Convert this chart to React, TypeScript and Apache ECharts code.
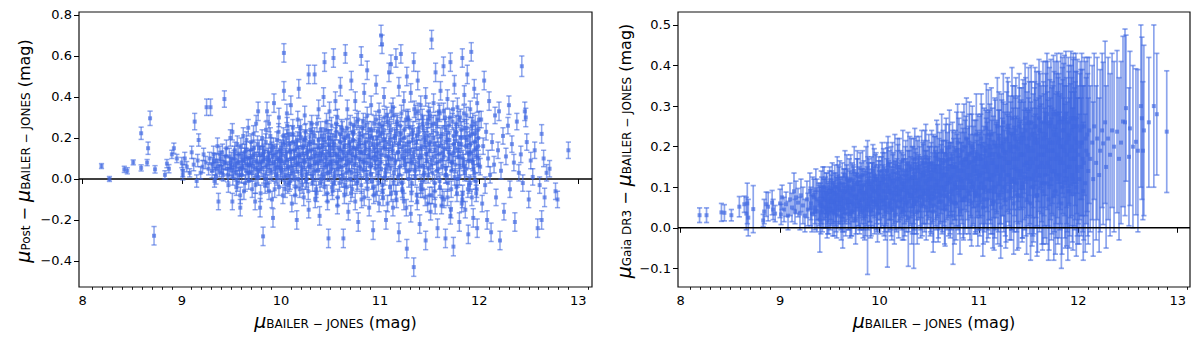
import React, { useEffect, useRef } from "react";
import * as echarts from "echarts";

// [mu_BJ, mu_Post - mu_BJ, error]
const postVsBJ: [number, number, number][] = [
  [8.19,0.063,0.012],[8.27,0.0,0.012],[8.42,0.047,0.015],[8.45,0.04,0.015],[8.51,0.081,0.012],[8.59,0.223,0.03],[8.59,0.054,0.015],[8.65,0.08,0.015],[8.66,0.15,0.03],[8.68,0.296,0.035],[8.72,-0.277,0.045],[8.73,0.047,0.018],[8.83,0.02,0.02],[8.85,0.075,0.02],[8.87,0.05,0.02],[8.90,0.12,0.02],[8.92,0.15,0.025],[8.95,0.10,0.02],
  [9.00,0.08,0.025],[9.01,0.04,0.03],[9.01,0.02,0.025],[9.03,0.10,0.03],[9.05,0.06,0.025],[9.08,0.03,0.02],[9.10,0.13,0.03],[9.12,0.07,0.03],[9.13,0.28,0.04],[9.15,-0.01,0.03],[9.16,0.09,0.03],[9.17,0.19,0.03],[9.19,0.03,0.03],[9.21,0.06,0.03],[9.22,0.12,0.03],[9.24,0.08,0.03],[9.25,0.35,0.04],[9.27,0.05,0.03],[9.29,0.35,0.04],[9.28,0.10,0.03],
  [9.31,0.07,0.035],[9.32,0.12,0.04],[9.33,-0.01,0.03],[9.34,0.05,0.03],[9.35,0.09,0.035],[9.36,0.16,0.04],[9.37,-0.11,0.04],[9.38,0.04,0.03],[9.39,0.10,0.035],[9.40,0.06,0.03],[9.41,0.13,0.04],[9.42,0.02,0.03],[9.43,0.39,0.04],[9.44,0.08,0.035],[9.45,0.15,0.04],[9.46,0.05,0.03],[9.47,-0.03,0.035],[9.48,0.11,0.04],[9.49,0.07,0.035],[9.49,0.20,0.04],
  [9.50,0.09,0.04],[9.51,-0.11,0.04],[9.51,0.23,0.04],[9.52,0.04,0.035],[9.53,0.12,0.04],[9.54,0.06,0.035],[9.55,-0.04,0.04],[9.56,0.17,0.04],[9.57,0.08,0.04],[9.58,0.02,0.035],[9.59,-0.14,0.04],[9.59,-0.08,0.04],[9.60,0.11,0.04],[9.61,0.05,0.035],[9.62,0.21,0.04],[9.63,0.09,0.04],[9.64,-0.02,0.04],[9.65,0.14,0.04],[9.66,0.07,0.035],[9.67,0.25,0.04],[9.68,0.03,0.04],[9.69,0.10,0.04],[9.70,0.18,0.04],[9.71,-0.05,0.04],[9.72,0.06,0.04],[9.73,0.12,0.04],[9.74,-0.11,0.04],[9.75,0.27,0.04],[9.76,0.08,0.04],[9.77,0.33,0.045],[9.77,0.01,0.04],[9.78,0.15,0.04],[9.79,-0.14,0.045],[9.80,0.05,0.04],[9.81,0.20,0.04],[9.82,-0.28,0.045],[9.82,0.09,0.04],[9.83,0.13,0.04],[9.84,-0.03,0.04],[9.85,0.24,0.04],[9.86,0.33,0.045],[9.86,0.07,0.04],[9.87,0.11,0.04],[9.88,0.27,0.04],[9.88,-0.06,0.04],[9.89,0.04,0.04],[9.90,0.16,0.04],[9.91,-0.10,0.04],[9.92,-0.19,0.045],[9.92,0.08,0.04],[9.93,0.37,0.045],[9.94,0.12,0.04],[9.95,0.02,0.04],[9.96,0.19,0.04],[9.97,0.06,0.04],[9.98,0.30,0.045],[9.98,-0.04,0.04],[9.99,0.10,0.04],[9.99,0.14,0.04],
  [10.00,0.05,0.04],[10.01,0.12,0.04],[10.02,-0.08,0.04],[10.03,0.615,0.045],[10.03,0.43,0.045],[10.04,0.18,0.04],[10.05,0.02,0.04],[10.06,0.32,0.045],[10.06,0.09,0.04],[10.07,-0.03,0.04],[10.08,0.22,0.04],[10.09,0.14,0.04],[10.10,0.36,0.045],[10.10,0.06,0.04],[10.11,-0.12,0.04],[10.12,0.25,0.04],[10.13,0.10,0.04],[10.14,0.01,0.04],[10.15,0.17,0.04],[10.16,-0.20,0.045],[10.16,0.07,0.04],[10.17,0.29,0.04],[10.18,0.44,0.045],[10.18,0.12,0.04],[10.19,-0.05,0.04],[10.20,0.20,0.04],[10.21,0.04,0.04],[10.22,0.15,0.04],[10.23,-0.09,0.04],[10.24,0.31,0.045],[10.24,0.08,0.04],[10.25,0.23,0.04],[10.26,0.00,0.04],[10.27,0.13,0.04],[10.28,0.51,0.045],[10.28,-0.15,0.04],[10.29,0.18,0.04],[10.30,0.06,0.04],[10.31,0.27,0.04],[10.32,-0.02,0.04],[10.33,0.11,0.04],[10.34,0.51,0.045],[10.34,0.21,0.04],[10.35,0.04,0.04],[10.36,-0.07,0.04],[10.37,0.16,0.04],[10.38,0.34,0.045],[10.38,0.09,0.04],[10.39,-0.18,0.045],[10.40,0.24,0.04],[10.41,0.13,0.04],[10.42,0.02,0.04],[10.43,0.40,0.045],[10.43,0.19,0.04],[10.44,0.57,0.045],[10.44,-0.04,0.04],[10.45,0.10,0.04],[10.46,0.28,0.04],[10.47,-0.11,0.04],[10.47,0.07,0.04],[10.48,-0.29,0.045],[10.48,0.17,0.04],[10.49,0.33,0.045],[10.49,0.03,0.04],
  [10.50,0.12,0.04],[10.51,0.05,0.04],[10.51,0.26,0.04],[10.52,-0.06,0.04],[10.53,0.59,0.045],[10.53,0.15,0.04],[10.54,0.01,0.04],[10.55,0.21,0.04],[10.55,0.38,0.045],[10.56,0.08,0.04],[10.57,-0.13,0.04],[10.57,0.30,0.04],[10.58,0.11,0.04],[10.59,-0.02,0.04],[10.60,0.18,0.04],[10.60,0.45,0.045],[10.61,0.06,0.04],[10.62,0.24,0.04],[10.63,-0.29,0.045],[10.63,0.13,0.04],[10.64,-0.08,0.04],[10.65,0.61,0.045],[10.65,0.20,0.04],[10.66,0.03,0.04],[10.67,0.34,0.045],[10.67,0.09,0.04],[10.68,-0.16,0.04],[10.69,0.16,0.04],[10.70,0.27,0.04],[10.70,0.00,0.04],[10.71,0.48,0.045],[10.72,0.12,0.04],[10.72,-0.05,0.04],[10.73,0.22,0.04],[10.74,0.07,0.04],[10.75,0.38,0.045],[10.75,-0.11,0.04],[10.76,0.15,0.04],[10.77,0.04,0.04],[10.78,0.29,0.04],[10.78,-0.21,0.045],[10.79,0.10,0.04],[10.80,0.19,0.04],[10.81,0.60,0.045],[10.81,-0.03,0.04],[10.82,0.25,0.04],[10.83,0.08,0.04],[10.84,0.42,0.045],[10.84,-0.09,0.04],[10.85,0.14,0.04],[10.86,0.02,0.04],[10.87,0.53,0.045],[10.87,0.31,0.04],[10.88,0.11,0.04],[10.89,-0.14,0.04],[10.90,0.21,0.04],[10.90,0.06,0.04],[10.91,0.36,0.045],[10.92,-0.01,0.04],[10.93,0.17,0.04],[10.93,-0.25,0.045],[10.94,0.27,0.04],[10.95,0.09,0.04],[10.96,0.46,0.045],[10.96,-0.07,0.04],[10.97,0.13,0.04],[10.98,0.23,0.04],[10.98,0.03,0.04],[10.99,-0.12,0.04],[10.99,0.33,0.04],
  [11.00,0.14,0.04],[11.01,0.70,0.05],[11.01,0.05,0.04],[11.02,0.657,0.045],[11.02,0.26,0.04],[11.03,-0.09,0.04],[11.04,0.19,0.04],[11.04,0.40,0.045],[11.05,0.01,0.04],[11.06,0.11,0.04],[11.06,-0.20,0.045],[11.07,0.31,0.04],[11.08,0.07,0.04],[11.09,0.52,0.045],[11.09,0.17,0.04],[11.10,-0.04,0.04],[11.11,0.24,0.04],[11.11,0.56,0.045],[11.12,0.10,0.04],[11.13,-0.14,0.04],[11.13,0.35,0.045],[11.14,0.03,0.04],[11.15,0.20,0.04],[11.16,0.59,0.045],[11.16,-0.07,0.04],[11.17,0.28,0.04],[11.18,0.13,0.04],[11.19,-0.26,0.045],[11.19,0.45,0.045],[11.20,0.06,0.04],[11.21,0.22,0.04],[11.21,0.61,0.045],[11.22,-0.02,0.04],[11.23,0.16,0.04],[11.24,0.38,0.045],[11.24,-0.11,0.04],[11.25,0.09,0.04],[11.26,0.29,0.04],[11.27,-0.34,0.045],[11.27,0.50,0.045],[11.28,0.12,0.04],[11.29,0.00,0.04],[11.30,0.25,0.04],[11.31,-0.17,0.04],[11.31,0.42,0.045],[11.32,0.08,0.04],[11.33,0.19,0.04],[11.34,-0.43,0.045],[11.34,0.57,0.045],[11.35,0.04,0.04],[11.36,0.32,0.04],[11.37,-0.08,0.04],[11.37,0.15,0.04],[11.38,0.48,0.045],[11.39,0.23,0.04],[11.40,-0.22,0.045],[11.40,0.06,0.04],[11.41,0.36,0.045],[11.42,0.11,0.04],[11.43,-0.05,0.04],[11.43,0.27,0.04],[11.44,0.02,0.04],[11.45,0.18,0.04],[11.46,-0.30,0.045],[11.46,0.40,0.045],[11.47,0.09,0.04],[11.48,0.21,0.04],[11.48,-0.12,0.04],[11.49,0.33,0.04],[11.49,0.05,0.04],
  [11.50,0.14,0.04],[11.51,-0.16,0.04],[11.52,0.68,0.045],[11.52,0.26,0.04],[11.53,0.03,0.04],[11.54,0.37,0.045],[11.55,-0.06,0.04],[11.55,0.17,0.04],[11.56,0.52,0.045],[11.57,0.08,0.04],[11.58,-0.24,0.045],[11.58,0.29,0.04],[11.59,0.12,0.04],[11.60,-0.01,0.04],[11.61,0.43,0.045],[11.61,0.21,0.04],[11.62,-0.13,0.04],[11.63,0.06,0.04],[11.64,0.55,0.045],[11.64,0.33,0.04],[11.65,0.15,0.04],[11.66,-0.29,0.045],[11.66,0.02,0.04],[11.67,0.24,0.04],[11.68,0.39,0.045],[11.68,-0.09,0.04],[11.69,0.10,0.04],[11.70,0.19,0.04],[11.71,0.57,0.045],[11.71,-0.18,0.04],[11.72,0.04,0.04],[11.73,0.28,0.04],[11.74,0.13,0.04],[11.74,-0.33,0.045],[11.75,0.46,0.045],[11.76,0.07,0.04],[11.77,-0.04,0.04],[11.77,0.22,0.04],[11.78,0.35,0.045],[11.79,0.11,0.04],[11.80,-0.21,0.045],[11.80,0.01,0.04],[11.81,0.30,0.04],[11.82,0.17,0.04],[11.83,0.59,0.045],[11.83,-0.10,0.04],[11.84,0.08,0.04],[11.85,0.41,0.045],[11.85,0.25,0.04],[11.86,-0.15,0.04],[11.87,0.05,0.04],[11.88,0.19,0.04],[11.88,0.51,0.045],[11.89,-0.27,0.045],[11.90,0.12,0.04],[11.91,0.34,0.04],[11.91,-0.02,0.04],[11.92,0.62,0.045],[11.93,0.22,0.04],[11.93,0.09,0.04],[11.94,-0.19,0.045],[11.95,0.44,0.045],[11.95,0.03,0.04],[11.96,0.27,0.04],[11.97,-0.07,0.04],[11.97,0.15,0.04],[11.98,0.37,0.045],[11.98,-0.24,0.045],[11.99,0.10,0.04],[11.99,0.20,0.04],
  [12.01,0.06,0.04],[12.02,0.29,0.04],[12.03,-0.12,0.04],[12.04,0.16,0.04],[12.05,0.48,0.045],[12.06,-0.03,0.04],[12.07,0.23,0.04],[12.08,-0.20,0.045],[12.09,0.10,0.04],[12.10,0.38,0.045],[12.11,0.02,0.04],[12.12,-0.26,0.045],[12.13,0.18,0.04],[12.15,0.07,0.04],[12.16,0.31,0.04],[12.17,-0.09,0.04],[12.19,0.14,0.04],[12.20,0.33,0.045],[12.21,-0.30,0.045],[12.22,0.04,0.04],[12.24,0.21,0.04],[12.25,-0.16,0.04],[12.27,0.11,0.04],[12.29,0.26,0.04],[12.30,0.36,0.045],[12.31,-0.05,0.04],[12.33,0.17,0.04],[12.35,0.08,0.04],[12.36,-0.21,0.045],[12.38,0.28,0.04],[12.40,0.03,0.04],[12.42,0.12,0.04],[12.43,0.55,0.05],[12.44,-0.02,0.04],[12.46,0.33,0.045],[12.47,0.30,0.045],[12.48,0.18,0.04],[12.50,-0.10,0.04],[12.52,0.09,0.04],[12.54,0.01,0.04],[12.56,0.14,0.04],[12.59,-0.24,0.045],[12.61,-0.03,0.04],[12.63,0.22,0.045],[12.63,-0.20,0.045],[12.65,0.10,0.04],[12.66,-0.09,0.045],[12.68,0.03,0.04],[12.71,0.05,0.04],[12.77,-0.06,0.04],[12.79,-0.10,0.04],[12.90,0.14,0.04]
];

// dense core of the left panel
const postVsBJCore: [number, number, number][] = [
  [9.305,0.04,0.035],[9.325,0.09,0.035],[9.345,0.01,0.035],[9.365,0.06,0.035],[9.385,0.12,0.04],[9.405,0.03,0.035],[9.425,0.08,0.035],[9.445,0.11,0.04],[9.465,0.02,0.035],[9.485,0.05,0.035],
  [9.503,0.06,0.04],[9.514,0.01,0.04],[9.526,0.10,0.04],[9.535,0.14,0.04],[9.547,0.03,0.04],[9.556,0.08,0.04],[9.562,-0.02,0.04],[9.574,0.12,0.04],[9.585,0.05,0.04],[9.596,0.16,0.04],[9.604,0.02,0.04],[9.613,0.09,0.04],[9.627,-0.06,0.04],[9.634,0.13,0.04],[9.645,0.04,0.04],[9.652,0.19,0.04],[9.666,0.10,0.04],[9.675,-0.01,0.04],[9.683,0.07,0.04],[9.694,0.14,0.04],[9.705,0.03,0.04],[9.716,0.11,0.04],[9.724,0.22,0.04],[9.737,0.05,0.04],[9.743,-0.03,0.04],[9.755,0.09,0.04],[9.764,0.17,0.04],[9.772,0.04,0.04],[9.786,0.12,0.04],[9.795,-0.07,0.04],[9.803,0.08,0.04],[9.815,0.15,0.04],[9.826,0.02,0.04],[9.834,0.10,0.04],[9.847,0.18,0.04],[9.853,0.06,0.04],[9.866,-0.02,0.04],[9.874,0.13,0.04],[9.885,0.09,0.04],[9.893,0.21,0.04],[9.906,0.03,0.04],[9.914,0.11,0.04],[9.925,0.16,0.04],[9.937,-0.05,0.04],[9.945,0.07,0.04],[9.956,0.13,0.04],[9.963,0.01,0.04],[9.976,0.23,0.04],[9.984,0.09,0.04],[9.995,0.04,0.04],
  [10.004,0.15,0.04],[10.013,0.03,0.04],[10.025,0.21,0.04],[10.036,0.08,0.04],[10.044,-0.05,0.04],[10.057,0.13,0.04],[10.063,0.26,0.04],[10.075,0.05,0.04],[10.086,0.17,0.04],[10.094,-0.01,0.04],[10.105,0.10,0.04],[10.117,0.22,0.04],[10.124,0.03,0.04],[10.136,0.14,0.04],[10.143,-0.08,0.04],[10.155,0.08,0.04],[10.166,0.19,0.04],[10.174,0.00,0.04],[10.185,0.11,0.04],[10.197,0.25,0.04],[10.203,0.06,0.04],[10.215,-0.03,0.04],[10.226,0.16,0.04],[10.234,0.09,0.04],[10.247,0.20,0.04],[10.255,0.02,0.04],[10.263,0.12,0.04],[10.276,-0.06,0.04],[10.284,0.07,0.04],[10.295,0.24,0.04],[10.306,0.14,0.04],[10.314,0.01,0.04],[10.325,0.18,0.04],[10.337,0.08,0.04],[10.346,-0.10,0.04],[10.353,0.11,0.04],[10.364,0.27,0.04],[10.375,0.04,0.04],[10.386,0.15,0.04],[10.394,-0.02,0.04],[10.405,0.09,0.04],[10.413,0.21,0.04],[10.424,0.12,0.04],[10.436,0.01,0.04],[10.447,0.18,0.04],[10.455,0.06,0.04],[10.466,-0.07,0.04],[10.474,0.23,0.04],[10.483,0.13,0.04],[10.495,0.08,0.04],
  [10.503,0.20,0.04],[10.514,-0.04,0.04],[10.526,0.09,0.04],[10.535,0.17,0.04],[10.544,0.03,0.04],[10.556,0.27,0.04],[10.565,0.12,0.04],[10.573,-0.09,0.04],[10.584,0.06,0.04],[10.596,0.22,0.04],[10.605,0.14,0.04],[10.613,0.00,0.04],[10.624,0.10,0.04],[10.637,0.19,0.04],[10.645,-0.03,0.04],[10.656,0.07,0.04],[10.664,0.25,0.04],[10.676,0.13,0.04],[10.685,0.04,0.04],[10.693,0.18,0.04],[10.706,-0.07,0.04],[10.714,0.09,0.04],[10.725,0.23,0.04],[10.733,0.15,0.04],[10.745,0.01,0.04],[10.754,0.11,0.04],[10.766,0.28,0.04],[10.774,-0.01,0.04],[10.787,0.17,0.04],[10.795,0.06,0.04],[10.804,0.13,0.04],[10.813,-0.10,0.04],[10.826,0.21,0.04],[10.835,0.04,0.04],[10.846,0.16,0.04],[10.855,0.26,0.04],[10.864,0.08,0.04],[10.873,-0.05,0.04],[10.885,0.19,0.04],[10.896,0.12,0.04],[10.904,0.02,0.04],[10.913,0.24,0.04],[10.924,0.10,0.04],[10.936,-0.08,0.04],[10.944,0.15,0.04],[10.956,0.05,0.04],[10.965,0.20,0.04],[10.975,0.11,0.04],[10.984,-0.02,0.04],[10.993,0.27,0.04],
  [11.004,0.08,0.04],[11.015,0.22,0.04],[11.026,-0.06,0.04],[11.034,0.15,0.04],[11.045,0.30,0.04],[11.053,0.03,0.04],[11.064,0.18,0.04],[11.075,-0.12,0.04],[11.086,0.11,0.04],[11.094,0.26,0.04],[11.105,0.05,0.04],[11.113,0.33,0.04],[11.124,0.16,0.04],[11.136,-0.02,0.04],[11.145,0.21,0.04],[11.154,0.09,0.04],[11.166,-0.10,0.04],[11.173,0.27,0.04],[11.185,0.13,0.04],[11.194,0.02,0.04],[11.205,0.19,0.04],[11.216,0.32,0.04],[11.224,-0.05,0.04],[11.235,0.10,0.04],[11.246,0.24,0.04],[11.254,0.07,0.04],[11.265,-0.14,0.04],[11.274,0.17,0.04],[11.286,0.29,0.04],[11.295,0.04,0.04],[11.304,0.14,0.04],[11.316,-0.07,0.04],[11.325,0.22,0.04],[11.334,0.11,0.04],[11.345,0.34,0.04],[11.356,0.01,0.04],[11.364,0.18,0.04],[11.375,-0.11,0.04],[11.386,0.08,0.04],[11.394,0.25,0.04],[11.405,0.15,0.04],[11.414,-0.03,0.04],[11.426,0.30,0.04],[11.435,0.06,0.04],[11.446,0.20,0.04],[11.455,-0.09,0.04],[11.464,0.12,0.04],[11.473,0.27,0.04],[11.485,0.02,0.04],[11.496,0.17,0.04],
  [11.505,0.31,0.04],[11.513,0.07,0.04],[11.525,-0.08,0.04],[11.536,0.20,0.04],[11.544,0.11,0.04],[11.556,-0.13,0.04],[11.565,0.27,0.04],[11.574,0.04,0.04],[11.586,0.16,0.04],[11.594,0.33,0.04],[11.605,-0.04,0.04],[11.614,0.09,0.04],[11.626,0.22,0.04],[11.634,0.13,0.04],[11.645,-0.10,0.04],[11.656,0.30,0.04],[11.665,0.05,0.04],[11.673,0.18,0.04],[11.685,-0.02,0.04],[11.694,0.26,0.04],[11.704,0.12,0.04],[11.715,-0.15,0.04],[11.724,0.08,0.04],[11.736,0.34,0.04],[11.745,0.17,0.04],[11.753,0.01,0.04],[11.764,0.23,0.04],[11.776,-0.07,0.04],[11.785,0.14,0.04],[11.794,0.29,0.04],[11.803,0.06,0.04],[11.816,0.20,0.04],[11.824,-0.12,0.04],[11.835,0.10,0.04],[11.846,0.32,0.04],[11.854,0.03,0.04],[11.865,0.16,0.04],[11.874,0.25,0.04],[11.886,-0.05,0.04],[11.895,0.09,0.04],[11.904,0.21,0.04],[11.915,0.13,0.04],[11.926,-0.09,0.04],[11.935,0.28,0.04],[11.944,0.05,0.04],[11.956,0.18,0.04],[11.963,-0.01,0.04],[11.975,0.11,0.04],[11.986,0.24,0.04],[11.994,0.07,0.04]
];

const postVsBJCore2: [number, number, number][] = [
  [9.608,0.06,0.04],[9.638,0.11,0.04],[9.668,0.03,0.04],[9.698,0.08,0.04],[9.728,0.15,0.04],[9.758,0.02,0.04],[9.788,0.07,0.04],[9.818,0.12,0.04],[9.848,0.00,0.04],[9.878,0.09,0.04],[9.908,0.14,0.04],[9.938,0.05,0.04],[9.968,0.10,0.04],
  [10.008,0.09,0.04],[10.021,0.17,0.04],[10.034,0.01,0.04],[10.047,0.11,0.04],[10.059,0.20,0.04],[10.072,0.06,0.04],[10.085,-0.02,0.04],[10.098,0.13,0.04],[10.111,0.04,0.04],[10.123,0.18,0.04],[10.137,0.10,0.04],[10.149,-0.04,0.04],[10.162,0.15,0.04],[10.175,0.07,0.04],[10.188,0.22,0.04],[10.201,0.12,0.04],[10.213,0.02,0.04],[10.227,0.09,0.04],[10.239,0.19,0.04],[10.252,-0.01,0.04],[10.265,0.14,0.04],[10.278,0.06,0.04],[10.291,0.17,0.04],[10.303,0.10,0.04],[10.317,0.23,0.04],[10.329,0.03,0.04],[10.342,0.13,0.04],[10.355,-0.05,0.04],[10.368,0.08,0.04],[10.381,0.19,0.04],[10.393,0.11,0.04],[10.407,0.00,0.04],[10.419,0.16,0.04],[10.432,0.07,0.04],[10.445,0.24,0.04],[10.458,0.12,0.04],[10.471,0.03,0.04],[10.483,0.20,0.04],[10.497,0.15,0.04],
  [10.509,0.07,0.04],[10.522,0.18,0.04],[10.535,-0.02,0.04],[10.548,0.12,0.04],[10.561,0.23,0.04],[10.573,0.05,0.04],[10.587,0.15,0.04],[10.599,0.09,0.04],[10.612,0.25,0.04],[10.625,0.02,0.04],[10.638,0.16,0.04],[10.651,0.11,0.04],[10.663,-0.04,0.04],[10.677,0.21,0.04],[10.689,0.08,0.04],[10.702,0.14,0.04],[10.715,0.03,0.04],[10.728,0.19,0.04],[10.741,0.26,0.04],[10.753,0.10,0.04],[10.767,-0.02,0.04],[10.779,0.16,0.04],[10.792,0.22,0.04],[10.805,0.05,0.04],[10.818,0.13,0.04],[10.831,0.28,0.04],[10.843,0.09,0.04],[10.857,0.18,0.04],[10.869,0.00,0.04],[10.882,0.24,0.04],[10.895,0.14,0.04],[10.908,0.07,0.04],[10.921,0.20,0.04],[10.933,-0.04,0.04],[10.947,0.11,0.04],[10.959,0.29,0.04],[10.972,0.17,0.04],[10.985,0.06,0.04],[10.998,0.21,0.04],
  [11.011,0.12,0.04],[11.023,-0.03,0.04],[11.037,0.24,0.04],[11.049,0.16,0.04],[11.062,0.05,0.04],[11.075,0.28,0.04],[11.088,0.10,0.04],[11.101,0.19,0.04],[11.113,-0.07,0.04],[11.127,0.14,0.04],[11.139,0.31,0.04],[11.152,0.08,0.04],[11.165,0.22,0.04],[11.178,0.01,0.04],[11.191,0.17,0.04],[11.203,0.26,0.04],[11.217,0.11,0.04],[11.229,-0.06,0.04],[11.242,0.20,0.04],[11.255,0.14,0.04],[11.268,0.04,0.04],[11.281,0.30,0.04],[11.293,0.18,0.04],[11.307,0.09,0.04],[11.319,-0.02,0.04],[11.332,0.24,0.04],[11.345,0.13,0.04],[11.358,0.06,0.04],[11.371,0.21,0.04],[11.383,0.33,0.04],[11.397,0.10,0.04],[11.409,-0.05,0.04],[11.422,0.16,0.04],[11.435,0.25,0.04],[11.448,0.03,0.04],[11.461,0.19,0.04],[11.473,0.12,0.04],[11.487,0.29,0.04],[11.499,-0.08,0.04],
  [11.512,0.18,0.04],[11.525,0.09,0.04],[11.538,0.27,0.04],[11.551,-0.02,0.04],[11.563,0.14,0.04],[11.577,0.22,0.04],[11.589,0.05,0.04],[11.602,0.32,0.04],[11.615,0.16,0.04],[11.628,-0.09,0.04],[11.641,0.11,0.04],[11.653,0.25,0.04],[11.667,0.02,0.04],[11.679,0.19,0.04],[11.692,0.13,0.04],[11.705,0.30,0.04],[11.718,-0.05,0.04],[11.731,0.08,0.04],[11.743,0.21,0.04],[11.757,0.15,0.04],[11.769,0.27,0.04],[11.782,0.00,0.04],[11.795,0.17,0.04],[11.808,0.11,0.04],[11.821,0.24,0.04],[11.833,-0.07,0.04],[11.847,0.06,0.04],[11.859,0.20,0.04],[11.872,0.31,0.04],[11.885,0.13,0.04],[11.898,-0.03,0.04],[11.911,0.17,0.04],[11.923,0.26,0.04],[11.937,0.08,0.04],[11.949,0.14,0.04],[11.962,0.22,0.04],[11.975,-0.05,0.04],[11.988,0.16,0.04],[11.997,0.29,0.04]
];

// [mu_BJ, mu_GaiaDR3 - mu_BJ, error]
const gaiaVsBJ: [number, number, number][] = [
  [8.19,0.031,0.018],[8.26,0.031,0.018],[8.41,0.038,0.022],[8.44,0.037,0.02],[8.51,0.031,0.014],[8.59,0.052,0.025],[8.64,0.058,0.02],[8.66,0.035,0.04],[8.67,0.060,0.05],[8.68,0.025,0.045],[8.73,0.046,0.058],[8.83,0.018,0.015],[8.84,0.04,0.03],[8.86,0.058,0.03],[8.88,0.052,0.035],[8.92,0.062,0.03],[8.93,0.045,0.025],[8.95,0.035,0.02],
  [9.00,0.06,0.035],[9.01,0.033,0.025],[9.02,0.075,0.03],[9.04,0.045,0.03],[9.06,0.058,0.03],[9.08,0.030,0.035],[9.10,0.07,0.04],[9.12,0.05,0.035],[9.14,0.09,0.045],[9.15,0.04,0.03],[9.16,0.075,0.04],[9.18,0.062,0.035],[9.20,0.035,0.04],[9.21,0.08,0.04],[9.23,0.055,0.045],[9.25,0.03,0.04],[9.27,0.07,0.045],[9.28,0.045,0.04],[9.30,0.09,0.045],[9.31,0.06,0.04],[9.32,0.035,0.045],[9.34,0.075,0.045],[9.35,0.05,0.04],[9.36,0.095,0.05],[9.37,0.04,0.05],[9.39,0.065,0.045],[9.40,0.02,0.08],[9.41,0.03,0.045],[9.42,0.055,0.045],[9.43,0.10,0.05],[9.45,0.07,0.05],[9.46,0.045,0.045],[9.47,0.085,0.05],[9.48,0.06,0.05],[9.49,0.035,0.05],
  [9.50,0.07,0.05],[9.51,0.05,0.045],[9.52,0.09,0.05],[9.53,0.04,0.06],[9.54,0.065,0.05],[9.55,0.10,0.055],[9.56,0.055,0.05],[9.57,0.03,0.055],[9.58,0.08,0.05],[9.59,0.06,0.05],[9.60,0.11,0.055],[9.61,0.045,0.05],[9.62,0.075,0.05],[9.63,0.02,0.07],[9.64,0.09,0.055],[9.65,0.06,0.05],[9.66,0.035,0.055],[9.67,0.10,0.055],[9.68,0.07,0.05],[9.69,0.05,0.055],[9.70,0.085,0.055],[9.71,0.12,0.06],[9.72,0.04,0.06],[9.73,0.065,0.05],[9.74,0.095,0.055],[9.75,0.055,0.055],[9.76,0.02,0.06],[9.77,0.08,0.055],[9.78,0.11,0.06],[9.79,0.06,0.055],[9.80,0.045,0.06],[9.81,0.09,0.055],[9.82,0.07,0.06],[9.83,0.13,0.06],[9.84,0.05,0.055],[9.85,0.03,0.06],[9.86,0.085,0.06],[9.87,0.06,0.055],[9.88,0.05,0.165],[9.89,0.10,0.06],[9.90,0.075,0.06],[9.91,0.04,0.065],[9.92,0.115,0.06],[9.93,0.065,0.06],[9.94,0.09,0.06],[9.95,0.05,0.065],[9.96,0.12,0.06],[9.97,0.07,0.06],[9.98,0.035,0.07],[9.99,0.095,0.06],
  [10.00,0.08,0.06],[10.01,0.05,0.065],[10.02,0.11,0.065],[10.03,0.065,0.06],[10.04,0.13,0.065],[10.05,0.09,0.06],[10.06,0.04,0.07],[10.07,0.075,0.065],[10.08,0.05,0.147],[10.09,0.10,0.065],[10.10,0.12,0.07],[10.11,0.06,0.065],[10.12,0.085,0.065],[10.13,0.14,0.07],[10.14,0.07,0.065],[10.15,0.03,0.07],[10.16,0.10,0.065],[10.17,0.055,0.065],[10.18,0.12,0.07],[10.19,0.08,0.065],[10.20,0.15,0.07],[10.21,0.065,0.065],[10.22,0.095,0.07],[10.23,0.04,0.07],[10.24,0.11,0.07],[10.25,0.075,0.065],[10.26,0.13,0.07],[10.27,0.06,0.07],[10.28,0.09,0.07],[10.29,0.025,0.12],[10.30,0.12,0.07],[10.31,0.08,0.07],[10.32,0.145,0.075],[10.33,0.055,0.07],[10.34,0.10,0.07],[10.345,0.06,0.16],[10.35,0.07,0.075],[10.36,0.125,0.07],[10.37,0.09,0.07],[10.38,0.04,0.08],[10.39,0.11,0.07],[10.40,0.15,0.075],[10.41,0.075,0.07],[10.42,0.10,0.075],[10.43,0.06,0.08],[10.44,0.13,0.075],[10.45,0.085,0.075],[10.46,0.115,0.075],[10.47,0.05,0.08],[10.48,0.14,0.075],[10.49,0.095,0.075],
  [10.50,0.10,0.075],[10.51,0.06,0.08],[10.52,0.13,0.08],[10.53,0.085,0.075],[10.54,0.04,0.10],[10.55,0.12,0.08],[10.56,0.15,0.075],[10.57,0.075,0.08],[10.58,0.105,0.08],[10.59,0.05,0.085],[10.60,0.14,0.08],[10.61,0.09,0.08],[10.62,0.12,0.085],[10.63,0.065,0.08],[10.64,0.16,0.08],[10.65,0.10,0.085],[10.66,0.045,0.09],[10.67,0.13,0.085],[10.68,0.08,0.085],[10.69,0.11,0.085],[10.70,0.17,0.085],[10.71,0.07,0.085],[10.72,0.125,0.085],[10.73,0.095,0.085],[10.74,0.03,0.12],[10.75,0.15,0.085],[10.76,0.105,0.085],[10.77,0.06,0.09],[10.78,0.14,0.09],[10.79,0.085,0.09],[10.80,0.18,0.09],[10.81,0.04,0.105],[10.82,0.12,0.09],[10.83,0.10,0.09],[10.84,0.155,0.09],[10.85,0.20,0.105],[10.86,0.075,0.09],[10.87,0.17,0.105],[10.88,0.13,0.09],[10.89,0.09,0.09],[10.90,0.16,0.09],[10.91,0.065,0.095],[10.92,0.115,0.09],[10.93,0.185,0.095],[10.94,0.10,0.095],[10.95,0.14,0.09],[10.96,0.08,0.095],[10.97,0.17,0.095],[10.98,0.12,0.095],[10.99,0.055,0.10],
  [11.00,0.13,0.10],[11.01,0.08,0.10],[11.02,0.17,0.11],[11.03,0.11,0.10],[11.04,0.05,0.12],[11.05,0.15,0.10],[11.06,0.10,0.10],[11.07,0.19,0.10],[11.08,0.07,0.105],[11.09,0.14,0.145],[11.10,0.12,0.10],[11.11,0.20,0.105],[11.12,0.09,0.105],[11.13,0.16,0.105],[11.14,0.06,0.11],[11.15,0.13,0.105],[11.16,0.21,0.11],[11.17,0.10,0.105],[11.18,0.15,0.11],[11.19,0.08,0.12],[11.20,0.18,0.11],[11.21,0.12,0.11],[11.22,0.05,0.125],[11.23,0.20,0.115],[11.24,0.14,0.11],[11.25,0.10,0.11],[11.26,0.17,0.115],[11.27,0.07,0.12],[11.28,0.22,0.115],[11.29,0.13,0.115],[11.30,0.16,0.115],[11.31,0.09,0.12],[11.32,0.19,0.12],[11.33,0.115,0.12],[11.34,0.23,0.12],[11.35,0.06,0.125],[11.36,0.15,0.12],[11.37,0.20,0.12],[11.38,0.11,0.12],[11.39,0.17,0.125],[11.40,0.08,0.13],[11.41,0.22,0.125],[11.42,0.14,0.125],[11.43,0.21,0.135],[11.44,0.10,0.125],[11.45,0.18,0.13],[11.46,0.125,0.13],[11.47,0.24,0.13],[11.48,0.07,0.135],[11.49,0.16,0.13],
  [11.50,0.19,0.13],[11.51,0.12,0.135],[11.52,0.06,0.14],[11.53,0.23,0.13],[11.54,0.16,0.135],[11.55,0.10,0.135],[11.56,0.21,0.135],[11.57,0.14,0.14],[11.58,0.25,0.135],[11.59,0.08,0.14],[11.60,0.18,0.14],[11.61,0.13,0.14],[11.62,0.24,0.14],[11.63,0.16,0.145],[11.64,0.09,0.145],[11.65,0.22,0.14],[11.66,0.15,0.145],[11.67,0.27,0.14],[11.68,0.11,0.15],[11.69,0.19,0.145],[11.70,0.07,0.15],[11.71,0.25,0.145],[11.72,0.17,0.15],[11.73,0.12,0.15],[11.74,0.21,0.15],[11.75,0.28,0.145],[11.76,0.14,0.15],[11.77,0.09,0.155],[11.78,0.23,0.15],[11.79,0.18,0.155],[11.80,0.26,0.15],[11.81,0.13,0.155],[11.82,0.20,0.155],[11.83,0.06,0.16],[11.84,0.24,0.155],[11.85,0.16,0.16],[11.86,0.27,0.155],[11.87,0.11,0.16],[11.88,0.21,0.16],[11.89,0.15,0.16],[11.90,0.26,0.16],[11.91,0.09,0.14],[11.92,0.19,0.165],[11.93,0.24,0.16],[11.94,0.13,0.165],[11.95,0.27,0.16],[11.96,0.17,0.165],[11.97,0.22,0.165],[11.98,0.10,0.17],[11.99,0.25,0.165],
  [12.00,0.18,0.17],[12.01,0.12,0.16],[12.02,0.24,0.17],[12.03,0.15,0.17],[12.04,0.21,0.18],[12.05,0.09,0.17],[12.06,0.25,0.17],[12.07,0.11,0.17],[12.08,0.19,0.18],[12.09,0.23,0.19],[12.10,0.14,0.18],[12.11,0.24,0.18],[12.12,0.17,0.18],[12.14,0.21,0.19],[12.15,0.12,0.19],[12.16,0.25,0.18],[12.18,0.16,0.19],[12.19,0.22,0.2],[12.21,0.13,0.19],[12.22,0.19,0.2],[12.24,0.24,0.19],[12.25,0.208,0.2],[12.27,0.26,0.2],[12.28,0.15,0.2],[12.30,0.22,0.2],[12.32,0.18,0.2],[12.34,0.24,0.19],[12.36,0.20,0.21],[12.39,0.237,0.2],[12.41,0.17,0.2],[12.43,0.21,0.2],[12.45,0.262,0.21],[12.47,0.26,0.23],[12.48,0.295,0.18],[12.51,0.175,0.17],[12.52,0.245,0.19],[12.55,0.20,0.2],[12.58,0.212,0.18],[12.60,0.19,0.2],[12.63,0.30,0.2],[12.64,0.27,0.2],[12.65,0.19,0.17],[12.66,0.24,0.21],[12.71,0.26,0.16],[12.76,0.30,0.2],[12.79,0.28,0.15],[12.89,0.237,0.15]
];

// dense core of the right panel
const gaiaVsBJCore: [number, number, number][] = [
  [9.405,0.06,0.05],[9.418,0.08,0.045],[9.426,0.04,0.05],[9.437,0.07,0.05],[9.444,0.10,0.05],[9.456,0.05,0.05],[9.465,0.085,0.05],[9.473,0.03,0.055],[9.484,0.065,0.05],[9.496,0.09,0.05],[9.505,0.045,0.05],[9.516,0.075,0.055],[9.524,0.11,0.05],[9.537,0.06,0.05],[9.545,0.035,0.055],[9.556,0.085,0.05],[9.563,0.07,0.055],[9.575,0.12,0.055],[9.586,0.05,0.05],[9.594,0.095,0.055],[9.607,0.065,0.055],[9.615,0.03,0.06],[9.626,0.105,0.055],[9.634,0.08,0.055],[9.645,0.045,0.055],[9.653,0.13,0.06],[9.664,0.07,0.055],[9.676,0.09,0.055],[9.685,0.055,0.06],[9.696,0.115,0.055],[9.704,0.035,0.06],[9.717,0.08,0.055],[9.725,0.10,0.06],[9.734,0.06,0.06],[9.746,0.14,0.06],[9.755,0.075,0.055],[9.763,0.045,0.06],[9.774,0.11,0.06],[9.785,0.065,0.06],[9.796,0.09,0.06],[9.806,0.125,0.06],[9.814,0.055,0.06],[9.826,0.085,0.06],[9.835,0.04,0.065],[9.844,0.105,0.06],[9.857,0.07,0.06],[9.865,0.135,0.065],[9.876,0.09,0.06],[9.884,0.06,0.065],[9.895,0.11,0.06],[9.904,0.08,0.065],[9.916,0.045,0.065],[9.925,0.10,0.06],[9.934,0.14,0.065],[9.946,0.065,0.065],[9.953,0.09,0.065],[9.966,0.12,0.065],[9.975,0.055,0.065],[9.984,0.085,0.065],[9.994,0.11,0.065],
  [10.005,0.10,0.065],[10.014,0.065,0.065],[10.026,0.14,0.07],[10.035,0.09,0.065],[10.046,0.05,0.07],[10.054,0.12,0.065],[10.065,0.075,0.07],[10.074,0.105,0.065],[10.086,0.155,0.07],[10.094,0.06,0.07],[10.106,0.09,0.07],[10.115,0.13,0.07],[10.124,0.045,0.075],[10.135,0.11,0.07],[10.146,0.08,0.07],[10.155,0.16,0.07],[10.164,0.065,0.07],[10.176,0.10,0.07],[10.185,0.135,0.07],[10.193,0.05,0.075],[10.206,0.09,0.07],[10.214,0.12,0.07],[10.226,0.07,0.075],[10.235,0.165,0.075],[10.244,0.10,0.07],[10.256,0.055,0.075],[10.264,0.14,0.075],[10.275,0.085,0.07],[10.284,0.115,0.075],[10.295,0.065,0.075],[10.306,0.15,0.075],[10.314,0.10,0.075],[10.325,0.04,0.08],[10.336,0.125,0.075],[10.344,0.085,0.075],[10.355,0.17,0.075],[10.366,0.11,0.075],[10.374,0.065,0.08],[10.385,0.14,0.075],[10.394,0.095,0.075],[10.405,0.12,0.08],[10.414,0.055,0.08],[10.425,0.16,0.08],[10.436,0.09,0.08],[10.445,0.135,0.08],[10.453,0.07,0.08],[10.466,0.175,0.08],[10.474,0.11,0.08],[10.485,0.08,0.08],[10.496,0.15,0.08],
  [10.505,0.12,0.08],[10.513,0.075,0.085],[10.525,0.16,0.08],[10.536,0.10,0.085],[10.545,0.055,0.09],[10.554,0.14,0.085],[10.566,0.09,0.085],[10.575,0.18,0.085],[10.584,0.115,0.085],[10.593,0.065,0.09],[10.606,0.15,0.085],[10.615,0.10,0.085],[10.626,0.19,0.09],[10.634,0.08,0.09],[10.645,0.13,0.085],[10.655,0.055,0.095],[10.663,0.165,0.09],[10.676,0.11,0.09],[10.684,0.145,0.09],[10.695,0.075,0.095],[10.704,0.20,0.09],[10.716,0.12,0.09],[10.723,0.09,0.095],[10.735,0.17,0.09],[10.746,0.13,0.09],[10.754,0.06,0.1],[10.764,0.15,0.09],[10.773,0.10,0.095],[10.786,0.21,0.095],[10.795,0.125,0.095],[10.804,0.08,0.095],[10.816,0.16,0.095],[10.825,0.115,0.095],[10.833,0.19,0.095],[10.846,0.07,0.1],[10.854,0.14,0.095],[10.864,0.10,0.1],[10.875,0.22,0.1],[10.886,0.15,0.095],[10.895,0.085,0.1],[10.904,0.18,0.1],[10.915,0.13,0.1],[10.926,0.06,0.105],[10.934,0.20,0.1],[10.945,0.11,0.1],[10.954,0.165,0.1],[10.966,0.09,0.1],[10.974,0.23,0.1],[10.985,0.14,0.1],[10.996,0.10,0.105],
  [11.005,0.17,0.105],[11.016,0.10,0.105],[11.024,0.22,0.11],[11.035,0.135,0.105],[11.045,0.07,0.11],[11.054,0.19,0.105],[11.066,0.12,0.11],[11.075,0.245,0.11],[11.084,0.15,0.11],[11.094,0.09,0.115],[11.106,0.18,0.11],[11.114,0.13,0.11],[11.125,0.23,0.115],[11.136,0.10,0.115],[11.145,0.16,0.115],[11.153,0.065,0.12],[11.164,0.20,0.115],[11.175,0.14,0.115],[11.186,0.25,0.12],[11.195,0.11,0.12],[11.204,0.175,0.115],[11.216,0.08,0.125],[11.225,0.21,0.12],[11.234,0.15,0.12],[11.246,0.26,0.12],[11.255,0.12,0.12],[11.264,0.185,0.12],[11.273,0.09,0.125],[11.286,0.16,0.12],[11.295,0.235,0.125],[11.304,0.13,0.125],[11.316,0.20,0.125],[11.325,0.10,0.13],[11.333,0.27,0.125],[11.346,0.17,0.125],[11.355,0.12,0.13],[11.364,0.22,0.13],[11.375,0.145,0.13],[11.386,0.08,0.135],[11.394,0.195,0.13],[11.405,0.25,0.13],[11.414,0.13,0.13],[11.426,0.18,0.135],[11.435,0.10,0.135],[11.444,0.23,0.135],[11.456,0.155,0.135],[11.465,0.27,0.135],[11.474,0.12,0.14],[11.485,0.20,0.135],[11.495,0.145,0.14],
  [11.505,0.22,0.14],[11.514,0.15,0.14],[11.526,0.26,0.14],[11.535,0.10,0.145],[11.546,0.19,0.14],[11.554,0.13,0.145],[11.565,0.25,0.145],[11.576,0.17,0.145],[11.585,0.08,0.15],[11.594,0.21,0.145],[11.605,0.27,0.145],[11.614,0.15,0.15],[11.626,0.20,0.15],[11.634,0.11,0.15],[11.645,0.26,0.15],[11.656,0.18,0.15],[11.665,0.13,0.155],[11.674,0.23,0.15],[11.685,0.28,0.15],[11.694,0.16,0.155],[11.706,0.10,0.155],[11.714,0.21,0.155],[11.725,0.26,0.155],[11.735,0.14,0.155],[11.746,0.19,0.16],[11.754,0.08,0.16],[11.766,0.25,0.16],[11.775,0.17,0.16],[11.784,0.28,0.15],[11.795,0.12,0.16],[11.806,0.22,0.16],[11.815,0.16,0.165],[11.824,0.27,0.16],[11.836,0.10,0.165],[11.845,0.20,0.165],[11.854,0.24,0.165],[11.866,0.14,0.165],[11.875,0.28,0.155],[11.884,0.18,0.17],[11.895,0.09,0.17],[11.906,0.23,0.17],[11.914,0.15,0.17],[11.925,0.27,0.165],[11.934,0.20,0.17],[11.946,0.12,0.175],[11.955,0.25,0.17],[11.964,0.17,0.175],[11.976,0.27,0.16],[11.985,0.21,0.175],[11.994,0.14,0.18],[12.015,0.20,0.18],[12.035,0.25,0.18],[12.055,0.16,0.19],[12.075,0.22,0.19],[12.095,0.18,0.2]
];

const gaiaVsBJCore2: [number, number, number][] = [
  [9.308,0.05,0.045],[9.329,0.08,0.045],[9.351,0.04,0.045],[9.372,0.07,0.05],[9.393,0.055,0.05],
  [9.414,0.09,0.05],[9.435,0.05,0.05],[9.457,0.075,0.05],[9.478,0.04,0.055],[9.499,0.10,0.05],[9.521,0.065,0.055],[9.542,0.085,0.05],[9.563,0.045,0.055],[9.585,0.10,0.055],[9.606,0.07,0.055],[9.627,0.05,0.06],[9.649,0.09,0.055],[9.671,0.12,0.06],[9.692,0.065,0.055],[9.713,0.04,0.06],[9.734,0.095,0.06],[9.756,0.075,0.06],[9.777,0.13,0.06],[9.798,0.055,0.06],[9.819,0.10,0.06],[9.841,0.08,0.06],[9.862,0.045,0.065],[9.883,0.115,0.06],[9.905,0.07,0.065],[9.926,0.095,0.065],[9.947,0.13,0.065],[9.969,0.06,0.065],[9.989,0.10,0.065],
  [10.011,0.075,0.065],[10.032,0.12,0.065],[10.053,0.06,0.07],[10.074,0.14,0.07],[10.096,0.09,0.07],[10.117,0.05,0.07],[10.138,0.115,0.07],[10.159,0.085,0.07],[10.181,0.15,0.07],[10.202,0.07,0.07],[10.223,0.11,0.075],[10.245,0.045,0.075],[10.266,0.10,0.07],[10.287,0.16,0.075],[10.308,0.08,0.075],[10.329,0.125,0.075],[10.351,0.06,0.075],[10.372,0.15,0.075],[10.393,0.10,0.075],[10.415,0.075,0.08],[10.436,0.13,0.08],[10.457,0.16,0.08],[10.479,0.09,0.08],[10.499,0.12,0.08],
  [10.521,0.07,0.085],[10.542,0.15,0.08],[10.563,0.105,0.085],[10.585,0.17,0.085],[10.606,0.08,0.085],[10.627,0.13,0.085],[10.649,0.095,0.09],[10.671,0.18,0.09],[10.692,0.12,0.09],[10.713,0.065,0.09],[10.734,0.15,0.09],[10.756,0.11,0.09],[10.777,0.19,0.095],[10.798,0.10,0.095],[10.819,0.14,0.095],[10.841,0.07,0.095],[10.862,0.17,0.095],[10.883,0.12,0.1],[10.905,0.21,0.1],[10.926,0.10,0.1],[10.947,0.15,0.1],[10.969,0.085,0.1],[10.989,0.18,0.1],
  [11.011,0.13,0.105],[11.032,0.20,0.105],[11.053,0.10,0.11],[11.074,0.16,0.11],[11.096,0.23,0.11],[11.117,0.12,0.11],[11.138,0.18,0.115],[11.159,0.09,0.115],[11.181,0.15,0.115],[11.202,0.22,0.115],[11.223,0.13,0.12],[11.245,0.19,0.12],[11.266,0.10,0.12],[11.287,0.25,0.12],[11.308,0.16,0.125],[11.329,0.12,0.125],[11.351,0.20,0.125],[11.372,0.24,0.13],[11.393,0.14,0.13],[11.415,0.18,0.13],[11.436,0.11,0.135],[11.457,0.22,0.135],[11.479,0.16,0.135],[11.499,0.26,0.135],
  [11.521,0.17,0.14],[11.542,0.12,0.14],[11.563,0.22,0.14],[11.585,0.15,0.145],[11.606,0.24,0.145],[11.627,0.18,0.145],[11.649,0.11,0.15],[11.671,0.20,0.15],[11.692,0.26,0.15],[11.713,0.15,0.15],[11.734,0.19,0.155],[11.756,0.23,0.155],[11.777,0.13,0.155],[11.798,0.21,0.16],[11.819,0.17,0.16],[11.841,0.26,0.16],[11.862,0.19,0.16],[11.883,0.12,0.165],[11.905,0.22,0.165],[11.926,0.17,0.165],[11.947,0.25,0.165],[11.969,0.19,0.17],[11.989,0.15,0.17],[12.025,0.21,0.18],[12.045,0.17,0.18]
];

const xTickValues = [8, 9, 10, 11, 12, 13];
const leftYTicks = [-0.4, -0.2, 0.0, 0.2, 0.4, 0.6, 0.8];
const rightYTicks = [-0.1, 0.0, 0.1, 0.2, 0.3, 0.4, 0.5];

const LEFT_X = [7.963, 13.138];
const RIGHT_X = [7.973, 13.124];
const LEFT_Y = [-0.527, 0.8146];
const RIGHT_Y = [-0.146, 0.532];

const FONT = '"DejaVu Sans", sans-serif';
const BAR = "rgba(65,105,225,0.6)";
const MARK = "rgba(65,105,225,0.85)";

const minorTicks: number[] = [];
for (let i = 80; i <= 131; i++) if (i % 10 !== 0) minorTicks.push(i / 10);

const fmt = (v: number) => (v < 0 ? "\u2212" : "") + Math.abs(v).toFixed(1);

const leftAll = [...postVsBJ, ...postVsBJCore, ...postVsBJCore2];
const rightAll = [...gaiaVsBJ, ...gaiaVsBJCore, ...gaiaVsBJCore2];

function makeRender(width: number) {
  return function errRender(params: any, api: any) {
    const x = api.value(0);
    const y = api.value(1);
    const e = api.value(2);
    const t = api.coord([x, y + e]);
    const b = api.coord([x, y - e]);
    const cw = 2.6;
    const style = { stroke: BAR, lineWidth: width, fill: null };
    return {
      type: "group",
      children: [
        { type: "line", shape: { x1: t[0], y1: t[1], x2: b[0], y2: b[1] }, style },
        { type: "line", shape: { x1: t[0] - cw, y1: t[1], x2: t[0] + cw, y2: t[1] }, style },
        { type: "line", shape: { x1: b[0] - cw, y1: b[1], x2: b[0] + cw, y2: b[1] }, style },
      ],
    };
  };
}

const rich = {
  mu: { fontSize: 19, fontStyle: "italic", fontFamily: FONT, fill: "#000", lineHeight: 22, verticalAlign: "bottom" },
  sub: { fontSize: 12, fontFamily: FONT, fill: "#000", lineHeight: 12, verticalAlign: "bottom" },
  t: { fontSize: 16, fontFamily: FONT, fill: "#000", lineHeight: 22, verticalAlign: "bottom" },
};

function xAxes(gridIndex: number, range: number[]) {
  return [
    {
      type: "value", gridIndex, min: range[0], max: range[1], position: "bottom",
      axisLine: { show: false },
      splitLine: { show: false },
      axisTick: { show: true, customValues: xTickValues, length: 5, lineStyle: { color: "#000", width: 1 } },
      axisLabel: { show: true, customValues: xTickValues, margin: 7, color: "#000", fontSize: 13, fontFamily: FONT, formatter: (v: number) => String(v) },
    },
    {
      type: "value", gridIndex, min: range[0], max: range[1], position: "bottom",
      axisLine: { show: false },
      splitLine: { show: false },
      axisTick: { show: true, customValues: minorTicks, length: 2.8, lineStyle: { color: "#000", width: 0.9 } },
      axisLabel: { show: false },
    },
  ];
}

function yAxis(gridIndex: number, range: number[], ticks: number[]) {
  return {
    type: "value", gridIndex, min: range[0], max: range[1],
    axisLine: { show: false },
    splitLine: { show: false },
    axisTick: { show: true, customValues: ticks, length: 5, lineStyle: { color: "#000", width: 1 } },
    axisLabel: { show: true, customValues: ticks, margin: 7, color: "#000", fontSize: 13, fontFamily: FONT, formatter: fmt },
  };
}

export default function App() {
  const ref = useRef<HTMLDivElement>(null);
  useEffect(() => {
    if (!ref.current) return;
    const chart = echarts.init(ref.current, undefined, { renderer: "svg" });
    const option: any = {
      animation: false,
      backgroundColor: "#fff",
      grid: [
        { left: 79, top: 12, width: 513, height: 275, show: true, borderColor: "#111", borderWidth: 1.2, backgroundColor: "transparent" },
        { left: 678, top: 12, width: 512, height: 275, show: true, borderColor: "#111", borderWidth: 1.2, backgroundColor: "transparent" },
      ],
      xAxis: [...xAxes(0, LEFT_X), ...xAxes(1, RIGHT_X)],
      yAxis: [yAxis(0, LEFT_Y, leftYTicks), yAxis(1, RIGHT_Y, rightYTicks)],
      series: [
        {
          type: "line", xAxisIndex: 0, yAxisIndex: 0, z: 1, silent: true, showSymbol: false,
          data: [[LEFT_X[0], 0], [LEFT_X[1], 0]],
          lineStyle: { color: "#000", width: 1.6 },
        },
        {
          type: "custom", xAxisIndex: 0, yAxisIndex: 0, z: 2, silent: true,
          renderItem: makeRender(1.5), data: leftAll, encode: { x: 0, y: 1 },
        },
        {
          type: "scatter", xAxisIndex: 0, yAxisIndex: 0, z: 3, silent: true,
          symbol: "rect", symbolSize: 4, itemStyle: { color: MARK },
          data: leftAll.map((p) => [p[0], p[1]]),
        },
        {
          type: "custom", xAxisIndex: 2, yAxisIndex: 1, z: 2, silent: true,
          renderItem: makeRender(1.7), data: rightAll, encode: { x: 0, y: 1 },
        },
        {
          type: "scatter", xAxisIndex: 2, yAxisIndex: 1, z: 3, silent: true,
          symbol: "rect", symbolSize: 4, itemStyle: { color: MARK },
          data: rightAll.map((p) => [p[0], p[1]]),
        },
        {
          type: "line", xAxisIndex: 2, yAxisIndex: 1, z: 4, silent: true, showSymbol: false,
          data: [[RIGHT_X[0], 0], [RIGHT_X[1], 0]],
          lineStyle: { color: "#000", width: 1.6 },
        },
      ],
      graphic: [
        {
          type: "text", x: 335.5, y: 319,
          style: { text: "{mu|\u03bc}{sub|BAILER \u2212 JONES}{t| (mag)}", rich, align: "center", verticalAlign: "middle" },
        },
        {
          type: "text", x: 934, y: 319,
          style: { text: "{mu|\u03bc}{sub|BAILER \u2212 JONES}{t| (mag)}", rich, align: "center", verticalAlign: "middle" },
        },
        {
          type: "text", x: 21, y: 151, rotation: Math.PI / 2,
          style: { text: "{mu|\u03bc}{sub|Post}{t| \u2212 }{mu|\u03bc}{sub|BAILER \u2212 JONES}{t| (mag)}", rich, align: "center", verticalAlign: "middle" },
        },
        {
          type: "text", x: 622, y: 151, rotation: Math.PI / 2,
          style: { text: "{mu|\u03bc}{sub|Gaia DR3}{t| \u2212 }{mu|\u03bc}{sub|BAILER \u2212 JONES}{t| (mag)}", rich, align: "center", verticalAlign: "middle" },
        },
      ],
    };
    chart.setOption(option);
    return () => chart.dispose();
  }, []);
  return (
    <div
      ref={ref}
      style={{ position: "fixed", left: 0, top: 0, width: 1200, height: 341, background: "#fff" }}
    />
  );
}
